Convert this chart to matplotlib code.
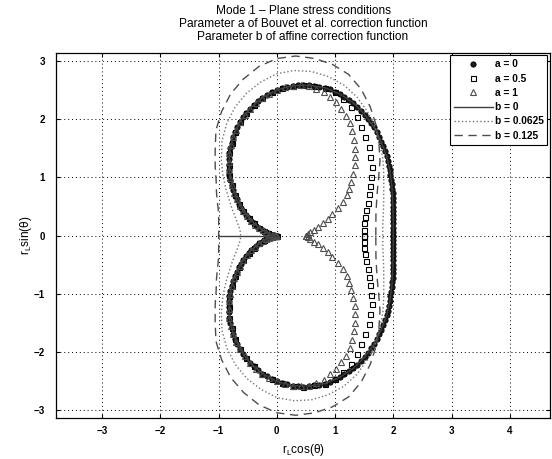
import numpy as np
import matplotlib
matplotlib.use('Agg')
import matplotlib.pyplot as plt

plt.rcParams['font.family'] = ['Liberation Sans', 'DejaVu Sans']
plt.rcParams['mathtext.default'] = 'regular'

# polar angle (deg) for the upper half, curves are symmetric about y=0
theta_m = np.arange(0, 181, 2)
# a = 0 (no correction)
r_a0 = [2.00, 2.00, 2.00, 2.01, 2.02, 2.03, 2.04, 2.06, 2.08, 2.09,
        2.12, 2.14, 2.16, 2.19, 2.21, 2.24, 2.27, 2.30, 2.33, 2.36,
        2.39, 2.41, 2.44, 2.47, 2.50, 2.52, 2.55, 2.57, 2.59, 2.61,
        2.63, 2.64, 2.65, 2.66, 2.66, 2.67, 2.67, 2.66, 2.65, 2.64,
        2.63, 2.61, 2.59, 2.56, 2.53, 2.50, 2.46, 2.42, 2.38, 2.33,
        2.28, 2.23, 2.17, 2.11, 2.05, 1.98, 1.91, 1.85, 1.77, 1.70,
        1.63, 1.55, 1.47, 1.39, 1.32, 1.24, 1.16, 1.08, 1.00, 0.93,
        0.85, 0.78, 0.71, 0.64, 0.57, 0.51, 0.45, 0.39, 0.33, 0.28,
        0.24, 0.19, 0.15, 0.12, 0.09, 0.06, 0.04, 0.02, 0.01, 0.00, 0.00]
# a = 0.5 (same as a = 0 beyond 72 deg)
r_a05 = [1.49, 1.49, 1.50, 1.50, 1.51, 1.53, 1.55, 1.57, 1.60, 1.63,
         1.66, 1.70, 1.74, 1.78, 1.82, 1.87, 1.91, 1.96, 2.01, 2.05,
         2.10, 2.14, 2.19, 2.23, 2.27, 2.32, 2.36, 2.41, 2.45, 2.49,
         2.54, 2.58, 2.61, 2.63, 2.65, 2.66, 2.67, 2.66, 2.65, 2.64,
         2.63, 2.61, 2.59, 2.56, 2.53, 2.50, 2.46, 2.42, 2.38, 2.33,
         2.28, 2.23, 2.17, 2.11, 2.05, 1.98, 1.91, 1.85, 1.77, 1.70,
         1.63, 1.55, 1.47, 1.39, 1.32, 1.24, 1.16, 1.08, 1.00, 0.93,
         0.85, 0.78, 0.71, 0.64, 0.57, 0.51, 0.45, 0.39, 0.33, 0.28,
         0.24, 0.19, 0.15, 0.12, 0.09, 0.06, 0.04, 0.02, 0.01, 0.00, 0.00]
# a = 1 (same as a = 0 beyond 80 deg), 3 deg steps
theta_t = np.arange(0, 181, 3)
r_a1 = [0.50, 0.54, 0.58, 0.65, 0.73, 0.82, 0.92, 1.02, 1.15, 1.27,
        1.39, 1.48, 1.58, 1.69, 1.80, 1.90, 2.01, 2.11, 2.21, 2.30,
        2.38, 2.44, 2.51, 2.55, 2.60, 2.61, 2.63, 2.62, 2.59, 2.55,
        2.50, 2.44, 2.38, 2.31, 2.23, 2.14, 2.05, 1.95, 1.85, 1.74,
        1.63, 1.51, 1.39, 1.28, 1.16, 1.04, 0.93, 0.82, 0.71, 0.61,
        0.51, 0.42, 0.33, 0.26, 0.19, 0.13, 0.09, 0.05, 0.02, 0.01, 0.00]

theta_l = np.arange(0, 181, 6)
r_b0 = [2.00, 2.01, 2.04, 2.09, 2.16, 2.24, 2.33, 2.41, 2.50, 2.57,
        2.63, 2.66, 2.67, 2.64, 2.59, 2.50, 2.38, 2.23, 2.05, 1.85,
        1.63, 1.39, 1.16, 0.93, 0.71, 0.51, 0.33, 0.19, 0.09, 0.02, 0.00]
r_b00625 = [1.82, 1.83, 1.87, 1.93, 2.01, 2.12, 2.25, 2.38, 2.52, 2.64,
            2.75, 2.83, 2.87, 2.88, 2.85, 2.78, 2.65, 2.50, 2.32, 2.11,
            1.88, 1.62, 1.38, 1.17, 1.00, 0.88, 0.78, 0.71, 0.66, 0.63, 0.62]
r_b0125 = [1.70, 1.71, 1.74, 1.80, 1.89, 2.02, 2.19, 2.36, 2.55, 2.73,
           2.90, 3.03, 3.09, 3.11, 3.10, 3.04, 2.92, 2.75, 2.56, 2.33,
           2.09, 1.80, 1.58, 1.40, 1.28, 1.18, 1.10, 1.05, 1.02, 1.00, 1.00]
crack_x = [-1, 0]
crack_y = [0, 0]


def xy(theta, r):
    t = np.radians(np.concatenate([theta, -theta[::-1][1:]]))
    rr = np.concatenate([r, np.asarray(r)[::-1][1:]])
    return rr * np.cos(t), rr * np.sin(t)


fig = plt.figure(figsize=(5.52, 4.59), dpi=100)
ax = fig.add_axes([56/552, 1-418/459, 494/552, 365.3/459])

x, y = xy(theta_m, r_a0)
ax.plot(x, y, 'o', ms=3.8, mfc='0.1', mec='k', mew=0.6, label='a = 0')
x, y = xy(theta_m, r_a05)
ax.plot(x, y, 's', ms=3.6, mfc='none', mec='k', mew=0.8, markevery=2, label='a = 0.5')
x, y = xy(theta_t, r_a1)
ax.plot(x, y, '^', ms=4.2, mfc='none', mec='0.3', mew=0.8, label='a = 1')
x, y = xy(theta_l, r_b0)
ax.plot(x, y, '-', color='0.25', lw=1.0, label='b = 0')
ax.plot(crack_x, crack_y, '-', color='0.25', lw=1.0)
x, y = xy(theta_l, r_b00625)
ax.plot(x, y, ':', color='0.45', lw=1.0, label='b = 0.0625')
x, y = xy(theta_l, r_b0125)
ax.plot(x, y, '--', color='0.3', lw=1.0, dashes=(6, 4), label='b = 0.125')

ax.set_xlim(-3.79, 4.69)
ax.set_ylim(-3.13, 3.14)
ax.set_xticks(range(-3, 5))
ax.set_yticks(range(-3, 4))
ax.grid(True, color='k', linestyle=(0, (1, 3)), lw=0.7)
ax.tick_params(direction='in', top=True, right=True, length=3, labelsize=7)
ax.tick_params(axis='x', pad=6)
ax.tick_params(axis='y', pad=8)
for lab in ax.get_xticklabels() + ax.get_yticklabels():
    lab.set_fontweight('bold')
for s in ax.spines.values():
    s.set_linewidth(0.9)

ax.set_title('Mode 1 – Plane stress conditions\nParameter a of Bouvet et al. correction function\n'
             'Parameter b of affine correction function', fontsize=8.6, linespacing=1.1, pad=9)
ax.set_xlabel('r$_L$cos(θ)', fontsize=8.5, labelpad=4)
ax.set_ylabel('r$_L$sin(θ)', fontsize=8.5, labelpad=0)

leg = ax.legend(loc='upper right', handlelength=3.8, borderaxespad=0.25,
                framealpha=1, fancybox=False, edgecolor='k', labelspacing=0.42,
                handletextpad=0.2, borderpad=0.4, numpoints=1,
                prop={'size': 7.3, 'weight': 'bold'})
leg.get_frame().set_linewidth(0.8)

plt.savefig('out.png', dpi=100)
